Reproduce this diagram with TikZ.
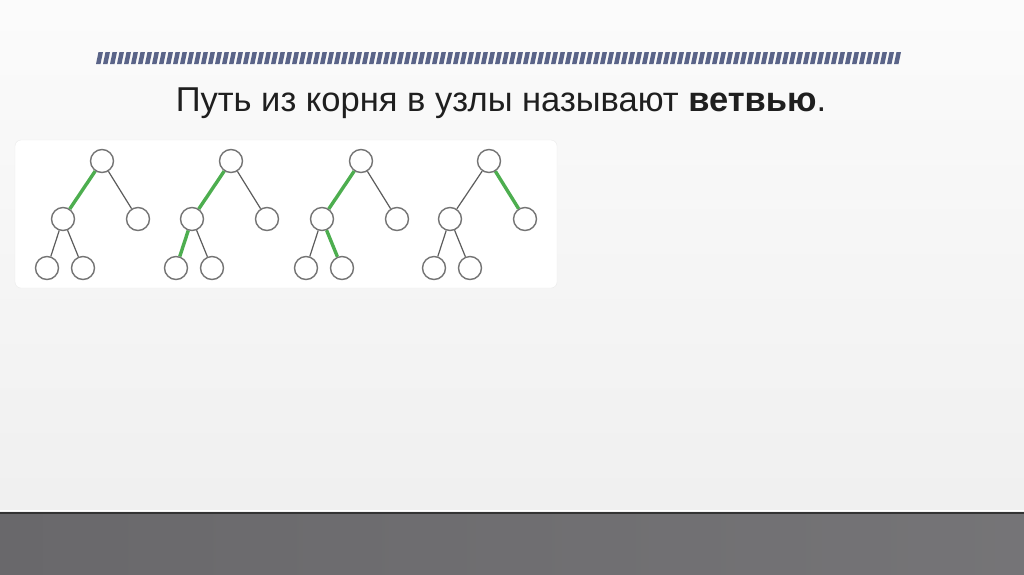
\documentclass[tikz,border=0pt]{standalone}
\usepackage{fontspec}
\setmainfont{Liberation Sans}
\usetikzlibrary{positioning}
\definecolor{bar}{HTML}{5A6488}
\definecolor{branch}{HTML}{4DAE4F}
\definecolor{wire}{HTML}{5C5C5C}
\definecolor{floor}{HTML}{69686B}
\tikzset{
    %Define style for tree nodes
    vertex/.style={
   	circle,
   	draw=wire!85, line width=1.4pt,
   	minimum size=23pt,
   	inner sep=0pt,
   	fill=white,
   	on grid
   },
    % Define edge styles
    twig/.style={
           draw=wire,
           line width=1.2pt},
    path/.style={
           draw=branch,
           line width=3.4pt}
}
\begin{document}
\begin{tikzpicture}[x=1pt,y=-1pt]
		\useasboundingbox (0,0) rectangle (1024,574);
		%background
		\shade[top color=white!97!gray, bottom color=white!88!gray] (0,0) rectangle (1024,513);
		\shade[left color=floor, right color=floor!92!white] (0,513) rectangle (1024,574);
		\draw[black!80, line width=2pt] (0,513) -- (1024,513);
		\draw[white, line width=0.8pt] (0,510.8) -- (1024,510.8);
		%stripes
		\foreach \i in {0,...,114}
		\fill[bar] (96+7*\i,64) -- (98.5+7*\i,52) -- (103+7*\i,52) -- (100.5+7*\i,64) -- cycle;
		%title
		\node[font=\fontsize{34.5}{40}\selectfont, text=black!88] (title) at (501,103)
		{Путь из корня в узлы называют \textbf{ветвью}.};
		%panel
		\filldraw[fill=white, draw=black!8, rounded corners=6pt] (15,140) rectangle (557,288);
		%trees
		\foreach \n/\x in {1/102,2/231,3/361,4/489}{
		\node[vertex] (r\n) at (\x,161) {};
		\node[vertex, below left=58pt and 39pt of r\n] (a\n) {};
		\node[vertex, below right=58pt and 36pt of r\n] (b\n) {};
		\node[vertex, below left=49pt and 16pt of a\n] (c\n) {};
		\node[vertex, below right=49pt and 20pt of a\n] (d\n) {};
		\path[twig]
		(r\n) edge (a\n)
		(r\n) edge (b\n)
		(a\n) edge (c\n)
		(a\n) edge (d\n);
		}
		\path[path]
		(r1) edge (a1)
		(r2) edge (a2)
		(a2) edge (c2)
		(r3) edge (a3)
		(a3) edge (d3)
		(r4) edge (b4);
\end{tikzpicture}
\end{document}
